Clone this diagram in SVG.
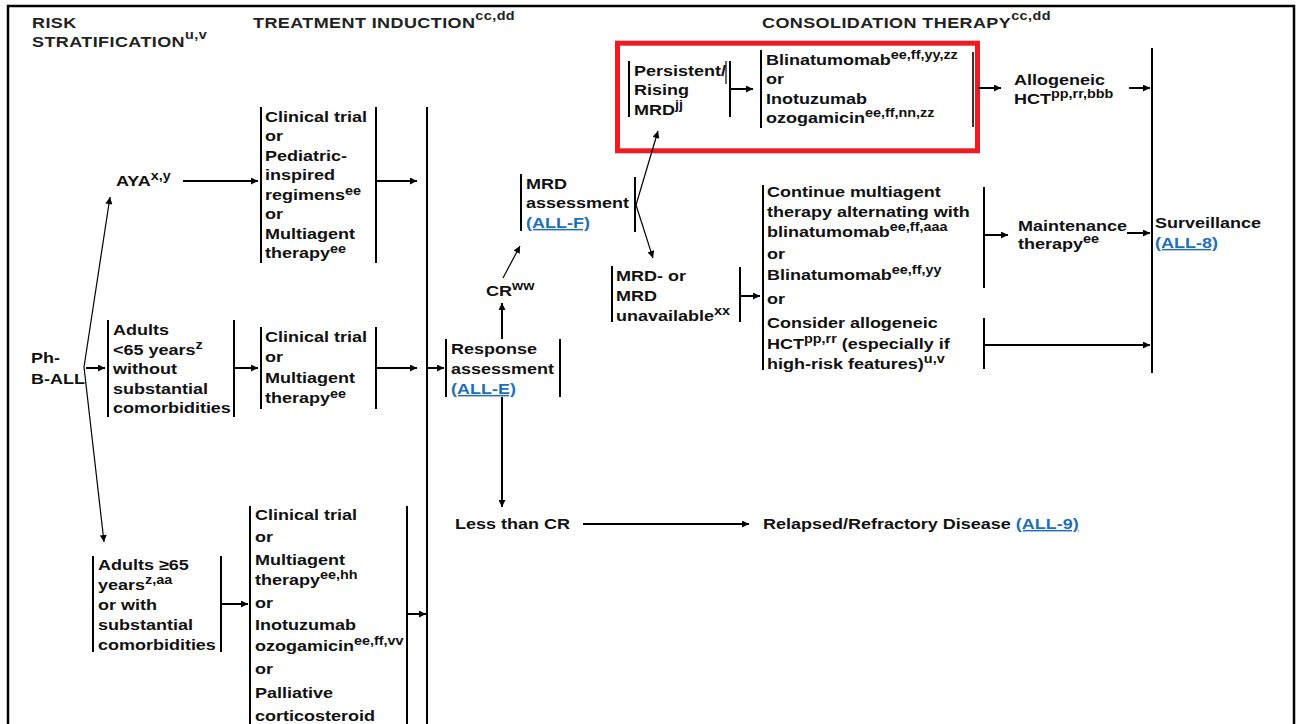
<svg xmlns="http://www.w3.org/2000/svg" width="1300" height="724" viewBox="0 0 1300 724">
<defs>
<style>
.t{font-family:"Liberation Sans",Arial,Helvetica,sans-serif;font-weight:bold;font-size:15px;fill:#111}
.h{fill:#222;letter-spacing:0.35px}
.s{font-size:12px}
.lk{fill:#1f6fb5;text-decoration:underline}
.bar{stroke:#000;stroke-width:2;fill:none}
.ln{stroke:#000;stroke-width:2;fill:none;marker-end:url(#ah)}
.dg{stroke:#000;stroke-width:1.2;fill:none;marker-end:url(#ahs)}
</style>
<marker id="ah" viewBox="0 0 10 10" refX="10" refY="5" markerWidth="11" markerHeight="7" orient="auto" markerUnits="userSpaceOnUse"><path d="M0,0 L10,5 L0,10 z" fill="#000"/></marker>
<marker id="ahs" viewBox="0 0 10 10" refX="10" refY="5" markerWidth="10" markerHeight="7" orient="auto" markerUnits="userSpaceOnUse"><path d="M0,0 L10,5 L0,10 z" fill="#000"/></marker>
</defs>
<rect width="1300" height="724" fill="#fff"/>
<path id="frame" d="M8,724 L8,6 L1294,6 L1294,724" fill="none" stroke="#000" stroke-width="2.5"/>

<g id="headers">
<g transform="translate(32,28) scale(1.2,1)"><text class="t h"><tspan x="0" y="0">RISK</tspan><tspan x="0" y="19">STRATIFICATION</tspan><tspan class="s" dy="-8">u,v</tspan></text></g>
<g transform="translate(253,28) scale(1.2,1)"><text class="t h"><tspan x="0" y="0">TREATMENT INDUCTION</tspan><tspan class="s" dy="-8">cc,dd</tspan></text></g>
<g transform="translate(762,28) scale(1.2,1)"><text class="t h"><tspan x="0" y="0">CONSOLIDATION THERAPY</tspan><tspan class="s" dy="-8">cc,dd</tspan></text></g>
</g>

<g id="n-phball">
<g transform="translate(31,363) scale(1.2,1)"><text class="t"><tspan x="0" y="0">Ph-</tspan><tspan x="0" y="21">B-ALL</tspan></text></g>
</g>

<g id="n-aya">
<g transform="translate(116,186) scale(1.2,1)"><text class="t"><tspan x="0" y="0">AYA</tspan><tspan class="s" dy="-6">x,y</tspan></text></g>
</g>

<g id="n-adults-lt65">
<path class="bar" d="M108,320 V417 M234,320 V417"/>
<g transform="translate(113,335) scale(1.2,1)"><text class="t"><tspan x="0" y="0">Adults</tspan><tspan x="0" y="19.6">&lt;65 years</tspan><tspan class="s" dy="-6">z</tspan><tspan x="0" y="39.2">without</tspan><tspan x="0" y="58.8">substantial</tspan><tspan x="0" y="78.4">comorbidities</tspan></text></g>
</g>

<g id="n-adults-ge65">
<path class="bar" d="M93,556 V652 M221,556 V652"/>
<g transform="translate(98,570) scale(1.2,1)"><text class="t"><tspan x="0" y="0">Adults ≥65</tspan><tspan x="0" y="20">years</tspan><tspan class="s" dy="-6">z,aa</tspan><tspan x="0" y="40">or with</tspan><tspan x="0" y="60">substantial</tspan><tspan x="0" y="80">comorbidities</tspan></text></g>
</g>

<g id="n-ind-aya">
<path class="bar" d="M261,107 V263 M376,107 V263"/>
<g transform="translate(265,122) scale(1.2,1)"><text class="t"><tspan x="0" y="0">Clinical trial</tspan><tspan x="0" y="19.5">or</tspan><tspan x="0" y="39">Pediatric-</tspan><tspan x="0" y="58.5">inspired</tspan><tspan x="0" y="78">regimens</tspan><tspan class="s" dy="-5">ee</tspan><tspan x="0" y="97.5">or</tspan><tspan x="0" y="117">Multiagent</tspan><tspan x="0" y="136.5">therapy</tspan><tspan class="s" dy="-5">ee</tspan></text></g>
</g>

<g id="n-ind-lt65">
<path class="bar" d="M261,327 V409 M376,327 V409"/>
<g transform="translate(265,342) scale(1.2,1)"><text class="t"><tspan x="0" y="0">Clinical trial</tspan><tspan x="0" y="20">or</tspan><tspan x="0" y="41">Multiagent</tspan><tspan x="0" y="61">therapy</tspan><tspan class="s" dy="-5">ee</tspan></text></g>
</g>

<g id="n-ind-ge65">
<path class="bar" d="M250,506 V724 M407,506 V724"/>
<g transform="translate(255,520) scale(1.2,1)"><text class="t"><tspan x="0" y="0">Clinical trial</tspan><tspan x="0" y="22.4">or</tspan><tspan x="0" y="44.8">Multiagent</tspan><tspan x="0" y="65">therapy</tspan><tspan class="s" dy="-6">ee,hh</tspan><tspan x="0" y="87.6">or</tspan><tspan x="0" y="110.5">Inotuzumab</tspan><tspan x="0" y="131.5">ozogamicin</tspan><tspan class="s" dy="-6">ee,ff,vv</tspan><tspan x="0" y="154">or</tspan><tspan x="0" y="178.5">Palliative</tspan><tspan x="0" y="201.5">corticosteroid</tspan></text></g>
</g>

<g id="n-collect">
<path class="bar" d="M427,107 V724"/>
</g>

<g id="n-response">
<path class="bar" d="M446,339 V397 M560,339 V397"/>
<g transform="translate(451,354) scale(1.2,1)"><text class="t"><tspan x="0" y="0">Response</tspan><tspan x="0" y="20">assessment</tspan><tspan class="lk" x="0" y="40">(ALL-E)</tspan></text></g>
</g>

<g id="n-cr">
<g transform="translate(486,296) scale(1.2,1)"><text class="t"><tspan x="0" y="0">CR</tspan><tspan class="s" dy="-6">ww</tspan></text></g>
</g>

<g id="n-lesscr">
<g transform="translate(455,529) scale(1.2,1)"><text class="t"><tspan x="0" y="0">Less than CR</tspan></text></g>
</g>

<g id="n-relapsed">
<g transform="translate(763,529) scale(1.2,1)"><text class="t"><tspan x="0" y="0">Relapsed/Refractory Disease </tspan><tspan class="lk">(ALL-9)</tspan></text></g>
</g>

<g id="n-mrd-assess">
<path class="bar" d="M521,174 V231 M635,177 V232"/>
<g transform="translate(526,189) scale(1.2,1)"><text class="t"><tspan x="0" y="0">MRD</tspan><tspan x="0" y="19.5">assessment</tspan><tspan class="lk" x="0" y="39">(ALL-F)</tspan></text></g>
</g>

<g id="n-highlight">
<rect x="617.5" y="43.2" width="360" height="107.6" fill="none" stroke="#ed1c24" stroke-width="5"/>
</g>

<g id="n-persistent">
<path class="bar" d="M629,61 V117 M730,61 V117"/>
<path d="M726,61 V84" stroke="#000" stroke-width="1.2"/>
<g transform="translate(634,76) scale(1.2,1)"><text class="t"><tspan x="0" y="0">Persistent/</tspan><tspan x="0" y="19.5">Rising</tspan><tspan x="0" y="39">MRD</tspan><tspan class="s" dy="-6">jj</tspan></text></g>
</g>

<g id="n-blin">
<path class="bar" d="M761,50 V128"/>
<path d="M973,52 V127" stroke="#333" stroke-width="2"/>
<g transform="translate(766,65) scale(1.2,1)"><text class="t"><tspan x="0" y="0">Blinatumomab</tspan><tspan class="s" dy="-6">ee,ff,yy,zz</tspan><tspan x="0" y="19.3">or</tspan><tspan x="0" y="38.6">Inotuzumab</tspan><tspan x="0" y="58">ozogamicin</tspan><tspan class="s" dy="-6">ee,ff,nn,zz</tspan></text></g>
</g>

<g id="n-allo">
<g transform="translate(1014,85) scale(1.2,1)"><text class="t"><tspan x="0" y="0">Allogeneic</tspan><tspan x="0" y="19">HCT</tspan><tspan class="s" dy="-6">pp,rr,bbb</tspan></text></g>
</g>

<g id="n-mrdneg">
<path class="bar" d="M612,266 V322 M740,267 V322"/>
<g transform="translate(616,281) scale(1.2,1)"><text class="t"><tspan x="0" y="0">MRD- or</tspan><tspan x="0" y="20">MRD</tspan><tspan x="0" y="40">unavailable</tspan><tspan class="s" dy="-6">xx</tspan></text></g>
</g>

<g id="n-continue">
<path class="bar" d="M763,185 V370 M984,187 V288 M984,318 V369"/>
<g transform="translate(767,197) scale(1.2,1)"><text class="t"><tspan x="0" y="0">Continue multiagent</tspan><tspan x="0" y="20">therapy alternating with</tspan><tspan x="0" y="40">blinatumomab</tspan><tspan class="s" dy="-6">ee,ff,aaa</tspan><tspan x="0" y="62">or</tspan><tspan x="0" y="83">Blinatumomab</tspan><tspan class="s" dy="-6">ee,ff,yy</tspan><tspan x="0" y="107">or</tspan><tspan x="0" y="131">Consider allogeneic</tspan><tspan x="0" y="152">HCT</tspan><tspan class="s" dy="-6">pp,rr</tspan><tspan dy="6"> (especially if</tspan><tspan x="0" y="172">high-risk features)</tspan><tspan class="s" dy="-6">u,v</tspan></text></g>
</g>

<g id="n-maint">
<g transform="translate(1018,231) scale(1.2,1)"><text class="t"><tspan x="0" y="0">Maintenance</tspan><tspan x="0" y="18.5">therapy</tspan><tspan class="s" dy="-6">ee</tspan></text></g>
</g>

<g id="n-surv">
<path class="bar" d="M1152,48 V373"/>
<g transform="translate(1155,228) scale(1.2,1)"><text class="t"><tspan x="0" y="0">Surveillance</tspan><tspan class="lk" x="0" y="20">(ALL-8)</tspan></text></g>
</g>

<g id="connectors">
<path class="dg" d="M84,367 L110,197"/>
<path class="dg" d="M84,367 L104,542"/>
<path class="ln" d="M86,368 L105,368"/>
<path class="ln" d="M183,181 L258,181"/>
<path class="ln" d="M234,368 L258,368"/>
<path class="ln" d="M221,604 L248,604"/>
<path class="ln" d="M376,181 L417,181"/>
<path class="ln" d="M376,368 L417,368"/>
<path class="ln" d="M407,614 L426,614"/>
<path class="ln" d="M427,368 L444,368"/>
<path class="ln" d="M502,339 L502,303"/>
<path class="dg" d="M503,278 L520,246"/>
<path class="ln" d="M502,397 L502,507"/>
<path class="ln" d="M583,524 L749,524"/>
<path class="dg" d="M636,205 L658,131"/>
<path class="dg" d="M636,205 L653,258"/>
<path class="ln" d="M731,89 L753,89"/>
<path class="ln" d="M978,88 L1001,88"/>
<path class="ln" d="M1129,88 L1150,88"/>
<path class="ln" d="M740,296 L760,296"/>
<path class="ln" d="M984,235 L1008,235"/>
<path class="ln" d="M1127,233 L1150,233"/>
<path class="ln" d="M984,345 L1150,345"/>
</g>
</svg>
